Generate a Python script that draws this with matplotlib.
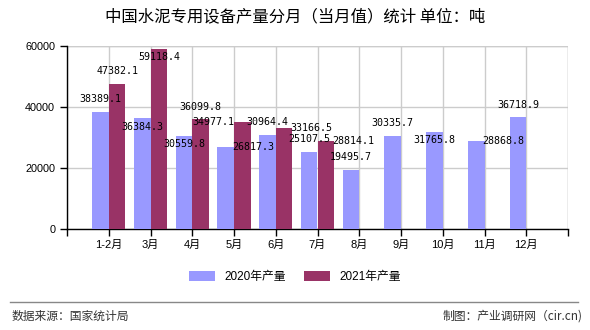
import matplotlib
matplotlib.use("Agg")
import matplotlib.pyplot as plt
import numpy as np

plt.rcParams['font.family'] = ['Liberation Sans', 'Noto Sans CJK SC', 'DejaVu Sans']

months = ["1-2月", "3月", "4月", "5月", "6月", "7月", "8月", "9月", "10月", "11月", "12月"]
prod_2020 = [38389.1, 36384.3, 30559.8, 26817.3, 30964.4, 25107.5, 19495.7, 30335.7, 31765.8, 28868.8, 36718.9]
prod_2021 = [47382.1, 59118.4, 36099.8, 34977.1, 33166.5, 28814.1]

# label offsets in pixels (dx, dy) relative to the bar top centre
off_2020 = [(0, 13), (0, -9), (0, -8), (28, 0), (0, 13), (0, 13), (0, 13), (0, 13), (0, -8), (27, 0), (0, 12)]
off_2021 = [(0, 13), (0, -8), (0, 12), (-29, 0), (27, 0), (27, 0)]

c2020 = "#9999FF"
c2021 = "#993366"

fig = plt.figure(figsize=(5.9, 3.3), dpi=100)
ax = fig.add_axes([67/590, 1-229/330, 501/590, 183/330])

x = np.arange(1, len(months) + 1)
w = 0.4
b1 = ax.bar(x[:len(prod_2020)] - w/2, prod_2020, w, color=c2020, label="2020年产量", zorder=3)
b2 = ax.bar(x[:len(prod_2021)] + w/2, prod_2021, w, color=c2021, label="2021年产量", zorder=3)

for bars, vals, offs in ((b1, prod_2020, off_2020), (b2, prod_2021, off_2021)):
    for rect, v, (dx, dy) in zip(bars, vals, offs):
        ax.annotate(f"{v:.1f}", (rect.get_x() + rect.get_width()/2, v),
                    xytext=(dx*0.72, dy*0.72), textcoords="offset points",
                    ha="center", va="center", fontsize=7.2,
                    family="DejaVu Sans Mono", zorder=5)

ax.set_xlim(0, 12)
ax.set_ylim(0, 60000)
ax.set_xticks(range(0, 13))
ax.set_xticklabels([""] + months + [""], fontsize=8)
ax.set_yticks([0, 20000, 40000, 60000])
ax.tick_params(axis="y", labelsize=7.8, length=5, width=1)
ax.tick_params(axis="x", length=5, width=1, pad=3)
ax.grid(True, color="#cccccc", linewidth=1, zorder=0)
for s in ("top", "right"):
    ax.spines[s].set_visible(False)
for s in ("left", "bottom"):
    ax.spines[s].set_linewidth(1)
ax.axvline(12, color="#cccccc", linewidth=1, zorder=0)
ax.axhline(60000, color="#cccccc", linewidth=1, zorder=0)

fig.text(0.5, 1-17/330, "中国水泥专用设备产量分月（当月值）统计 单位：吨",
         ha="center", va="center", fontsize=11.8, family="Noto Sans CJK SC")

fig.legend(loc="center", bbox_to_anchor=(0.5, 1-277/330), ncol=2, frameon=False,
           handlelength=2.2, handleheight=0.9, columnspacing=1.5,
           prop={"family": ["Liberation Sans", "Noto Sans CJK SC"], "size": 8.5})

fig.add_artist(plt.Line2D([10/590, 578/590], [1-302/330, 1-302/330], color="#888888", linewidth=1))
fig.text(12/590, 1-316/330, "数据来源：国家统计局", ha="left", va="center", fontsize=8.5,
         family="Noto Sans CJK SC", color="#333333")
fig.text(583/590, 1-316/330, "制图：产业调研网（cir.cn)", ha="right", va="center", fontsize=8.5,
         family="Noto Sans CJK SC", color="#333333")

fig.savefig("out.png", dpi=100)
